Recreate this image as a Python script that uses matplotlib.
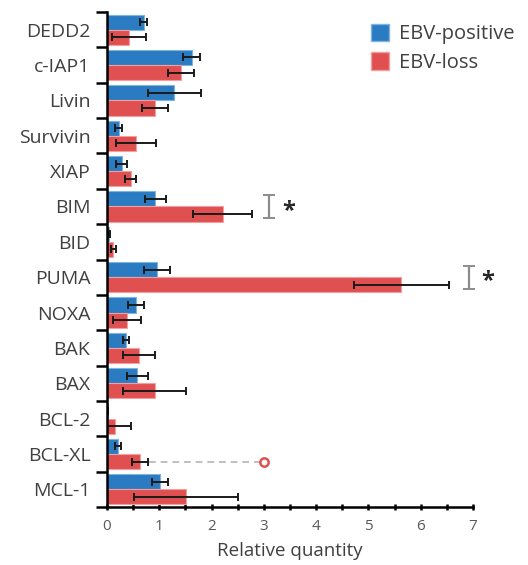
import numpy as np
import matplotlib
matplotlib.use("Agg")
import matplotlib.pyplot as plt
from matplotlib.patches import Patch

plt.rcParams['font.family'] = ['Open Sans', 'DejaVu Sans']

# data
genes = ['DEDD2', 'c-IAP1', 'Livin', 'Survivin', 'XIAP', 'BIM', 'BID',
         'PUMA', 'NOXA', 'BAK', 'BAX', 'BCL-2', 'BCL-XL', 'MCL-1']
pos_mean = [0.70, 1.62, 1.29, 0.22, 0.28, 0.92, 0.04,
            0.95, 0.55, 0.36, 0.58, 0.01, 0.21, 1.01]
pos_err = [0.06, 0.16, 0.51, 0.06, 0.10, 0.20, 0.02,
           0.25, 0.15, 0.06, 0.20, 0.00, 0.06, 0.15]
loss_mean = [0.42, 1.41, 0.91, 0.55, 0.45, 2.21, 0.12,
             5.63, 0.38, 0.61, 0.91, 0.16, 0.63, 1.51]
loss_err = [0.33, 0.25, 0.25, 0.38, 0.11, 0.56, 0.05,
            0.91, 0.27, 0.30, 0.60, 0.29, 0.15, 1.00]

sig_genes = ['BIM', 'PUMA']
sig_x = [3.10, 6.92]
outlier_gene = 'BCL-XL'
outlier_x = 3.0

blue = '#2a7bc1'
red = '#e05050'
txt = '#404040'

fig = plt.figure(figsize=(5.28, 5.65), dpi=100)
ax = fig.add_axes([0.2027, 0.1027, 0.6932, 0.876])

y = np.arange(len(genes))
h = 0.43
ekw = dict(ecolor='#1a1a1a', elinewidth=1.4, capsize=3.2, capthick=1.4)
ax.barh(y - h / 2, pos_mean, h, xerr=pos_err, color=blue,
        edgecolor='#7fb3e0', linewidth=0.8, error_kw=ekw, zorder=2)
ax.barh(y + h / 2, loss_mean, h, xerr=loss_err, color=red,
        edgecolor='#f0a0a0', linewidth=0.8, error_kw=ekw, zorder=2)

# outlier point for BCL-XL
iy = genes.index(outlier_gene) + h / 2
ie = loss_mean[genes.index(outlier_gene)] + loss_err[genes.index(outlier_gene)]
ax.plot([ie + 0.03, outlier_x - 0.08], [iy, iy], ls=(0, (3.5, 2.5)),
        color='#c0c0c0', lw=1.4, zorder=1)
ax.plot(outlier_x, iy, 'o', ms=6, mfc='none', mec=red, mew=1.8,
        clip_on=False, zorder=3)

# significance markers
for g, sx in zip(sig_genes, sig_x):
    gy = genes.index(g)
    ax.errorbar(sx, gy, yerr=0.33, fmt='none', ecolor='#8c8c8c',
                elinewidth=1.6, capsize=4, capthick=1.4, clip_on=False)
    ax.text(sx + 0.37, gy + 0.12, '*', fontsize=17, fontweight='bold',
            color='#262626', ha='center', va='center', clip_on=False)

ax.set_ylim(len(genes) - 0.5, -0.5)
ax.set_xlim(0, 7)
ax.set_yticks(np.arange(-0.5, len(genes), 1.0))
ax.set_yticklabels([])
ax.set_yticks(y, minor=True)
ax.set_yticklabels(genes, minor=True, fontsize=14, color=txt)
ax.tick_params(axis='y', which='minor', length=0, pad=12)
ax.tick_params(axis='y', which='major', length=8, width=1.8, direction='out')
ax.set_xticks(np.arange(0, 8))
ax.set_xticks(np.arange(0.5, 7, 1.0), minor=True)
ax.tick_params(axis='x', which='both', length=5, width=1.8,
               direction='inout', labelsize=11, labelcolor='#595959', pad=6)
ax.set_xlabel('Relative quantity', fontsize=13.5, color=txt, labelpad=6)

for s in ['top', 'right']:
    ax.spines[s].set_visible(False)
for s in ['left', 'bottom']:
    ax.spines[s].set_linewidth(1.8)

handles = [Patch(facecolor=blue, edgecolor='#7fb3e0', label='EBV-positive'),
           Patch(facecolor=red, edgecolor='#f0a0a0', label='EBV-loss')]
leg = fig.legend(handles=handles, loc='upper left', bbox_to_anchor=(0.668, 0.99),
                 frameon=False, fontsize=14.5, handlelength=0.9, handleheight=0.95,
                 handletextpad=0.5, labelspacing=0.4)
for t in leg.get_texts():
    t.set_color(txt)

fig.savefig('out.png', dpi=100)
